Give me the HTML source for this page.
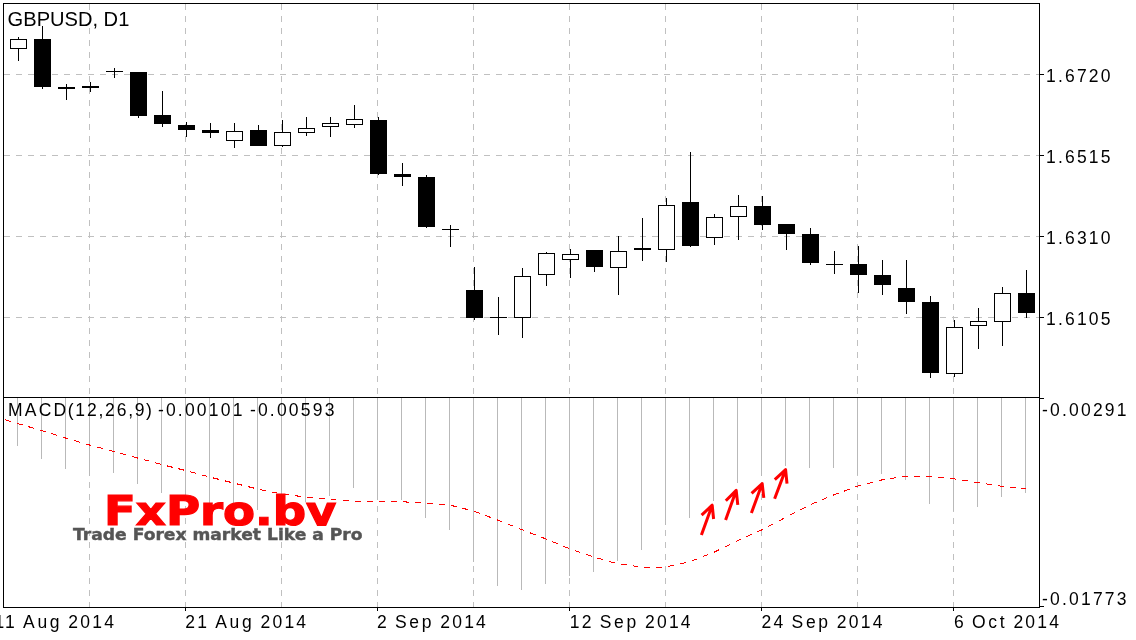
<!DOCTYPE html>
<html><head><meta charset="utf-8"><title>GBPUSD, D1</title>
<style>
html,body{margin:0;padding:0;background:#fff;}
body{width:1136px;height:640px;position:relative;overflow:hidden;font-family:"Liberation Sans",sans-serif;color:#000;}
.t{position:absolute;white-space:nowrap;line-height:1;}
.ax{font-size:17.5px;letter-spacing:2.2px;word-spacing:-1px;}
.m{letter-spacing:2.7px;}
.pc{margin:0 -0.6px;}
.title{font-size:20.1px;left:7.6px;top:9px;}
.logo{color:#ff0000;font-family:"DejaVu Sans","Liberation Sans",sans-serif;font-weight:bold;font-size:40px;-webkit-text-stroke:1.2px #ff0000;transform-origin:0 0;transform:scaleX(1.165);left:103.6px;top:490.9px;height:35.2px;overflow:hidden;}
.sub{color:#555;font-family:"DejaVu Sans","Liberation Sans",sans-serif;font-weight:bold;font-size:15.6px;-webkit-text-stroke:0.4px #555;transform-origin:0 0;transform:scaleX(1.098);left:73px;top:528px;}
</style></head><body>
<svg width="1136" height="640" viewBox="0 0 1136 640" style="position:absolute;left:0;top:0">
<rect width="1136" height="640" fill="#fff"/>
<g stroke="#c0c0c0" stroke-width="1" stroke-dasharray="6 6" shape-rendering="crispEdges">
<line x1="4" y1="74.5" x2="1039" y2="74.5"/>
<line x1="4" y1="155.5" x2="1039" y2="155.5"/>
<line x1="4" y1="236.5" x2="1039" y2="236.5"/>
<line x1="4" y1="317.5" x2="1039" y2="317.5"/>
<line x1="89.5" y1="4" x2="89.5" y2="397"/>
<line x1="89.5" y1="398" x2="89.5" y2="607"/>
<line x1="185.5" y1="4" x2="185.5" y2="397"/>
<line x1="185.5" y1="398" x2="185.5" y2="607"/>
<line x1="281.5" y1="4" x2="281.5" y2="397"/>
<line x1="281.5" y1="398" x2="281.5" y2="607"/>
<line x1="377.5" y1="4" x2="377.5" y2="397"/>
<line x1="377.5" y1="398" x2="377.5" y2="607"/>
<line x1="473.5" y1="4" x2="473.5" y2="397"/>
<line x1="473.5" y1="398" x2="473.5" y2="607"/>
<line x1="569.5" y1="4" x2="569.5" y2="397"/>
<line x1="569.5" y1="398" x2="569.5" y2="607"/>
<line x1="665.5" y1="4" x2="665.5" y2="397"/>
<line x1="665.5" y1="398" x2="665.5" y2="607"/>
<line x1="761.5" y1="4" x2="761.5" y2="397"/>
<line x1="761.5" y1="398" x2="761.5" y2="607"/>
<line x1="857.5" y1="4" x2="857.5" y2="397"/>
<line x1="857.5" y1="398" x2="857.5" y2="607"/>
<line x1="953.5" y1="4" x2="953.5" y2="397"/>
<line x1="953.5" y1="398" x2="953.5" y2="607"/>
</g>
<g fill="#b9b9b9" shape-rendering="crispEdges">
<rect x="17" y="398" width="1" height="48"/>
<rect x="41" y="398" width="1" height="61"/>
<rect x="65" y="398" width="1" height="71"/>
<rect x="89" y="398" width="1" height="78"/>
<rect x="113" y="398" width="1" height="75"/>
<rect x="137" y="398" width="1" height="86"/>
<rect x="161" y="398" width="1" height="95"/>
<rect x="185" y="398" width="1" height="100"/>
<rect x="209" y="398" width="1" height="105"/>
<rect x="233" y="398" width="1" height="109"/>
<rect x="257" y="398" width="1" height="112"/>
<rect x="281" y="398" width="1" height="109"/>
<rect x="305" y="398" width="1" height="104"/>
<rect x="329" y="398" width="1" height="98"/>
<rect x="353" y="398" width="1" height="90"/>
<rect x="377" y="398" width="1" height="102"/>
<rect x="401" y="398" width="1" height="102"/>
<rect x="425" y="398" width="1" height="120"/>
<rect x="449" y="398" width="1" height="132"/>
<rect x="473" y="398" width="1" height="164"/>
<rect x="497" y="398" width="1" height="188"/>
<rect x="521" y="398" width="1" height="192"/>
<rect x="545" y="398" width="1" height="186"/>
<rect x="569" y="398" width="1" height="178"/>
<rect x="593" y="398" width="1" height="174"/>
<rect x="617" y="398" width="1" height="163"/>
<rect x="641" y="398" width="1" height="152"/>
<rect x="665" y="398" width="1" height="127"/>
<rect x="689" y="398" width="1" height="120"/>
<rect x="713" y="398" width="1" height="103"/>
<rect x="737" y="398" width="1" height="85"/>
<rect x="761" y="398" width="1" height="78"/>
<rect x="785" y="398" width="1" height="68"/>
<rect x="809" y="398" width="1" height="70"/>
<rect x="833" y="398" width="1" height="70"/>
<rect x="857" y="398" width="1" height="77"/>
<rect x="881" y="398" width="1" height="76"/>
<rect x="905" y="398" width="1" height="82"/>
<rect x="929" y="398" width="1" height="106"/>
<rect x="953" y="398" width="1" height="113"/>
<rect x="977" y="398" width="1" height="109"/>
<rect x="1001" y="398" width="1" height="99"/>
<rect x="1025" y="398" width="1" height="95"/>
</g>
<g fill="#000" shape-rendering="crispEdges">
<rect x="3" y="3" width="1037" height="1"/>
<rect x="3" y="607" width="1037" height="1"/>
<rect x="3" y="397" width="1037" height="1"/>
<rect x="3" y="3" width="1" height="605"/>
<rect x="1039" y="3" width="1" height="605"/>
<rect x="1039" y="74" width="5" height="1"/>
<rect x="1039" y="155" width="5" height="1"/>
<rect x="1039" y="236" width="5" height="1"/>
<rect x="1039" y="317" width="5" height="1"/>
<rect x="1039" y="398" width="5" height="1"/>
<rect x="1039" y="606" width="5" height="1"/>
<rect x="185" y="607" width="1" height="4"/>
<rect x="377" y="607" width="1" height="4"/>
<rect x="569" y="607" width="1" height="4"/>
<rect x="761" y="607" width="1" height="4"/>
<rect x="953" y="607" width="1" height="4"/>
<rect x="18" y="37" width="1" height="24"/>
<rect x="10" y="39" width="17" height="10"/>
<rect x="11" y="40" width="15" height="8" fill="#fff"/>
<rect x="42" y="26" width="1" height="63"/>
<rect x="34" y="39" width="17" height="48"/>
<rect x="66" y="84" width="1" height="16"/>
<rect x="58" y="87" width="17" height="2"/>
<rect x="90" y="82" width="1" height="10"/>
<rect x="82" y="86" width="17" height="2"/>
<rect x="114" y="68" width="1" height="10"/>
<rect x="106" y="71" width="17" height="1"/>
<rect x="138" y="72" width="1" height="46"/>
<rect x="130" y="72" width="17" height="44"/>
<rect x="162" y="91" width="1" height="36"/>
<rect x="154" y="115" width="17" height="9"/>
<rect x="186" y="122" width="1" height="15"/>
<rect x="178" y="125" width="17" height="5"/>
<rect x="210" y="123" width="1" height="15"/>
<rect x="202" y="130" width="17" height="3"/>
<rect x="234" y="123" width="1" height="25"/>
<rect x="226" y="131" width="17" height="10"/>
<rect x="227" y="132" width="15" height="8" fill="#fff"/>
<rect x="258" y="125" width="1" height="21"/>
<rect x="250" y="130" width="17" height="16"/>
<rect x="282" y="120" width="1" height="27"/>
<rect x="274" y="132" width="17" height="14"/>
<rect x="275" y="133" width="15" height="12" fill="#fff"/>
<rect x="306" y="117" width="1" height="19"/>
<rect x="298" y="128" width="17" height="5"/>
<rect x="299" y="129" width="15" height="3" fill="#fff"/>
<rect x="330" y="117" width="1" height="20"/>
<rect x="322" y="123" width="17" height="4"/>
<rect x="323" y="124" width="15" height="2" fill="#fff"/>
<rect x="354" y="105" width="1" height="23"/>
<rect x="346" y="119" width="17" height="6"/>
<rect x="347" y="120" width="15" height="4" fill="#fff"/>
<rect x="378" y="117" width="1" height="58"/>
<rect x="370" y="120" width="17" height="54"/>
<rect x="402" y="163" width="1" height="23"/>
<rect x="394" y="174" width="17" height="3"/>
<rect x="426" y="175" width="1" height="53"/>
<rect x="418" y="177" width="17" height="50"/>
<rect x="450" y="225" width="1" height="22"/>
<rect x="442" y="229" width="17" height="1"/>
<rect x="474" y="267" width="1" height="53"/>
<rect x="466" y="290" width="17" height="28"/>
<rect x="498" y="297" width="1" height="38"/>
<rect x="490" y="317" width="17" height="1"/>
<rect x="522" y="268" width="1" height="70"/>
<rect x="514" y="276" width="17" height="42"/>
<rect x="515" y="277" width="15" height="40" fill="#fff"/>
<rect x="546" y="252" width="1" height="34"/>
<rect x="538" y="253" width="17" height="22"/>
<rect x="539" y="254" width="15" height="20" fill="#fff"/>
<rect x="570" y="249" width="1" height="29"/>
<rect x="562" y="254" width="17" height="6"/>
<rect x="563" y="255" width="15" height="4" fill="#fff"/>
<rect x="594" y="250" width="1" height="22"/>
<rect x="586" y="250" width="17" height="17"/>
<rect x="618" y="236" width="1" height="59"/>
<rect x="610" y="251" width="17" height="17"/>
<rect x="611" y="252" width="15" height="15" fill="#fff"/>
<rect x="642" y="218" width="1" height="43"/>
<rect x="634" y="248" width="17" height="2"/>
<rect x="666" y="198" width="1" height="64"/>
<rect x="658" y="205" width="17" height="45"/>
<rect x="659" y="206" width="15" height="43" fill="#fff"/>
<rect x="690" y="152" width="1" height="95"/>
<rect x="682" y="202" width="17" height="44"/>
<rect x="714" y="214" width="1" height="31"/>
<rect x="706" y="217" width="17" height="21"/>
<rect x="707" y="218" width="15" height="19" fill="#fff"/>
<rect x="738" y="195" width="1" height="45"/>
<rect x="730" y="206" width="17" height="11"/>
<rect x="731" y="207" width="15" height="9" fill="#fff"/>
<rect x="762" y="196" width="1" height="34"/>
<rect x="754" y="206" width="17" height="19"/>
<rect x="786" y="224" width="1" height="26"/>
<rect x="778" y="224" width="17" height="10"/>
<rect x="810" y="228" width="1" height="37"/>
<rect x="802" y="234" width="17" height="29"/>
<rect x="834" y="251" width="1" height="23"/>
<rect x="826" y="264" width="17" height="1"/>
<rect x="858" y="246" width="1" height="47"/>
<rect x="850" y="264" width="17" height="11"/>
<rect x="882" y="260" width="1" height="35"/>
<rect x="874" y="275" width="17" height="10"/>
<rect x="906" y="260" width="1" height="54"/>
<rect x="898" y="288" width="17" height="14"/>
<rect x="930" y="296" width="1" height="82"/>
<rect x="922" y="302" width="17" height="71"/>
<rect x="954" y="320" width="1" height="57"/>
<rect x="946" y="327" width="17" height="47"/>
<rect x="947" y="328" width="15" height="45" fill="#fff"/>
<rect x="978" y="308" width="1" height="41"/>
<rect x="970" y="321" width="17" height="5"/>
<rect x="971" y="322" width="15" height="3" fill="#fff"/>
<rect x="1002" y="287" width="1" height="59"/>
<rect x="994" y="293" width="17" height="29"/>
<rect x="995" y="294" width="15" height="27" fill="#fff"/>
<rect x="1026" y="270" width="1" height="48"/>
<rect x="1018" y="293" width="17" height="20"/>
</g>
<polyline points="5.2,419.8 17.5,423.5 41.5,430.5 65.5,438 89.5,445 113.5,451.5 137.5,458 161.5,464.5 185.5,470.5 209.5,477 233.5,483 257.5,489 281.5,494 305.5,497 329.5,499.5 353.5,501.25 377.5,501.75 401.5,501.75 425.5,503 449.5,505 473.5,511 497.5,520 521.5,529.5 545.5,538.75 569.5,548.75 593.5,557 617.5,563.75 641.5,567 665.5,567 689.5,561.75 713.5,552.5 737.5,540.75 761.5,530 785.5,517.5 809.5,505 833.5,495 857.5,486.25 881.5,480 905.5,476.25 929.5,476.5 953.5,478.75 977.5,482.5 1001.5,486.25 1025.5,488.75" fill="none" stroke="#ff0000" stroke-width="1" stroke-dasharray="6 6" shape-rendering="crispEdges"/>
<g stroke="#ff0000" stroke-width="3" fill="none" stroke-linecap="butt" stroke-linejoin="round">
<path d="M701.4 535L712.2 505.2M701.6 515.2L712.2 505.2L713.6 519"/>
<path d="M725.6 520L736.2 490.4M725.8 500.8L736.2 490.4L737.8 504.8"/>
<path d="M751.4 513L762.2 483.6M751.6 493.4L762.2 483.6L763.8 497.8"/>
<path d="M774.6 498.8L785.6 469.6M774.8 479.6L785.6 469.6L787 483.6"/>
</g>
</svg>
<div id="txt" style="position:absolute;left:0;top:0;width:1136px;height:640px;will-change:transform;">
<div class="t title">GBPUSD, D1</div>
<div class="t ax" style="left:1046px;top:68px">1.6720</div>
<div class="t ax" style="left:1046px;top:149px">1.6515</div>
<div class="t ax" style="left:1046px;top:230px">1.6310</div>
<div class="t ax" style="left:1046px;top:311px">1.6105</div>
<div class="t ax" style="left:1042px;top:402px">-0.00291</div>
<div class="t ax" style="left:1042px;top:591px">-0.01773</div>
<div class="t ax" style="left:8px;top:402px">MACD<span class="pc">(</span>12<span class="pc">,</span>26<span class="pc">,</span>9<span class="pc">)</span></div>
<div class="t ax" style="left:157.9px;top:402px">-0.00101</div>
<div class="t ax" style="left:249.9px;top:402px">-0.00593</div>
<div class="t ax" style="left:-5.6px;top:614px">11 <span class="m">Aug</span> 2014</div>
<div class="t ax" style="left:185.3px;top:614px">21 <span class="m">Aug</span> 2014</div>
<div class="t ax" style="left:377px;top:614px">2 <span class="m">Sep</span> 2014</div>
<div class="t ax" style="left:569.8px;top:614px">12 <span class="m">Sep</span> 2014</div>
<div class="t ax" style="left:761.6px;top:614px">24 <span class="m">Sep</span> 2014</div>
<div class="t ax" style="left:954px;top:614px">6 <span class="m">Oct</span> 2014</div>
<div class="t logo">FxPro.by</div>
<div class="t sub">Trade Forex market Like a Pro</div>
</div>
</body></html>
